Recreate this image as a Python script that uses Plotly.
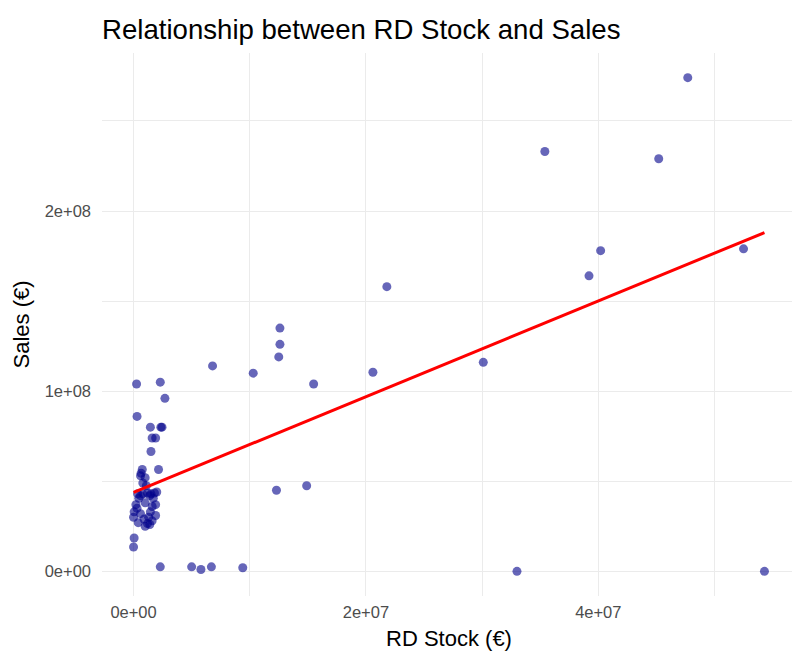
import numpy as np
import plotly.graph_objects as go

# RD stock (EUR) and sales (EUR)
rd_stock = [
    # dense cluster near zero RD stock
    0.26e6, 2.3e6, 2.7e6, 0.3e6, 1.45e6, 2.35e6, 2.45e6, 1.6e6, 1.9e6, 1.5e6,
    2.15e6, 0.75e6, 0.65e6, 0.6e6, 1.0e6, 0.8e6, 1.1e6,
    0.35e6, 0.8e6, 1.2e6, 1.5e6, 1.8e6, 2.0e6, 0.6e6, 1.4e6,
    0.45e6, 1.7e6, 0.2e6, 1.9e6, 1.0e6,
    0.05e6, 1.45e6, 0.0e6, 1.3e6, 1.9e6, 0.4e6, 1.2e6, 0.05e6, 0.0e6,
    0.3e6, 1.6e6, 0.9e6, 1.6e6, 0.6e6, 1.0e6, 1.4e6,
    # near-zero sales
    2.3e6, 5.0e6, 5.8e6, 6.7e6, 9.4e6,
    # the rest
    6.8e6, 10.3e6, 12.6e6, 12.6e6, 12.5e6, 15.5e6, 12.3e6, 14.9e6,
    20.6e6, 21.8e6, 30.1e6, 33.0e6, 35.4e6, 39.2e6, 40.2e6, 45.2e6,
    47.7e6, 52.5e6, 54.3e6,
]
sales = [
    1.04e8, 1.05e8, 0.96e8, 0.86e8, 0.80e8, 0.80e8, 0.80e8, 0.74e8, 0.74e8, 0.665e8,
    0.565e8, 0.565e8, 0.545e8, 0.53e8, 0.52e8, 0.49e8, 0.475e8,
    0.43e8, 0.43e8, 0.435e8, 0.43e8, 0.435e8, 0.44e8, 0.42e8, 0.42e8,
    0.405e8, 0.405e8, 0.37e8, 0.37e8, 0.38e8,
    0.33e8, 0.33e8, 0.30e8, 0.30e8, 0.31e8, 0.27e8, 0.265e8, 0.185e8, 0.135e8,
    0.35e8, 0.36e8, 0.29e8, 0.28e8, 0.32e8, 0.25e8, 0.26e8,
    0.025e8, 0.025e8, 0.01e8, 0.025e8, 0.02e8,
    1.14e8, 1.10e8, 1.35e8, 1.26e8, 1.19e8, 1.04e8, 0.45e8, 0.475e8,
    1.105e8, 1.58e8, 1.16e8, 0.0e8, 2.33e8, 1.64e8, 1.78e8, 2.29e8,
    2.74e8, 1.79e8, 0.0e8,
]

x_tick_vals = [0, 2e7, 4e7]
x_tick_text = ["0e+00", "2e+07", "4e+07"]
y_tick_vals = [0, 1e8, 2e8]
y_tick_text = ["0e+00", "1e+08", "2e+08"]

x = np.array(rd_stock)
y = np.array(sales)
slope, intercept = np.polyfit(x, y, 1)
x_line = np.array([x.min(), x.max()])
y_line = intercept + slope * x_line

fig = go.Figure()
fig.add_trace(go.Scatter(
    x=rd_stock, y=sales, mode="markers",
    marker=dict(color="#00008B", opacity=0.6, size=9, line=dict(width=0)),
    showlegend=False, hoverinfo="skip",
))
fig.add_trace(go.Scatter(
    x=x_line, y=y_line, mode="lines",
    line=dict(color="#FF0000", width=3),
    showlegend=False, hoverinfo="skip",
))

xr = [x.min() - 0.05 * (x.max() - x.min()), x.max() + 0.05 * (x.max() - x.min())]
yr = [y.min() - 0.05 * (y.max() - y.min()), y.max() + 0.05 * (y.max() - y.min())]

grid = "#EBEBEB"
fig.update_layout(
    width=800, height=657,
    margin=dict(l=94, r=12, t=45, b=69, autoexpand=False),
    plot_bgcolor="white", paper_bgcolor="white",
    font=dict(family="Liberation Sans, Arial, sans-serif"),
    title=dict(text="Relationship between RD Stock and Sales", x=0, xref="paper",
               xanchor="left", y=0.967, yanchor="middle",
               font=dict(size=27.6, color="black")),
    xaxis=dict(
        range=xr, tickvals=x_tick_vals, ticktext=x_tick_text,
        showgrid=True, gridcolor=grid, gridwidth=1.2, zeroline=False,
        showline=False, ticks="", ticklabelstandoff=4, automargin=False,
        tickfont=dict(size=16.5, color="#4D4D4D"),
        minor=dict(showgrid=True, gridcolor=grid, gridwidth=0.6, tick0=0, dtick=1e7),
        title=dict(text="RD Stock (€)", font=dict(size=22, color="black"), standoff=11),
    ),
    yaxis=dict(
        range=yr, tickvals=y_tick_vals, ticktext=y_tick_text,
        showgrid=True, gridcolor=grid, gridwidth=1.2, zeroline=False,
        showline=False, ticks="", ticklabelstandoff=10, automargin=False,
        tickfont=dict(size=16.5, color="#4D4D4D"),
        minor=dict(showgrid=True, gridcolor=grid, gridwidth=0.6, tick0=0, dtick=5e7),
        title=dict(text="Sales (€)", font=dict(size=22, color="black"), standoff=8),
    ),
)

fig.write_html("out.html")
